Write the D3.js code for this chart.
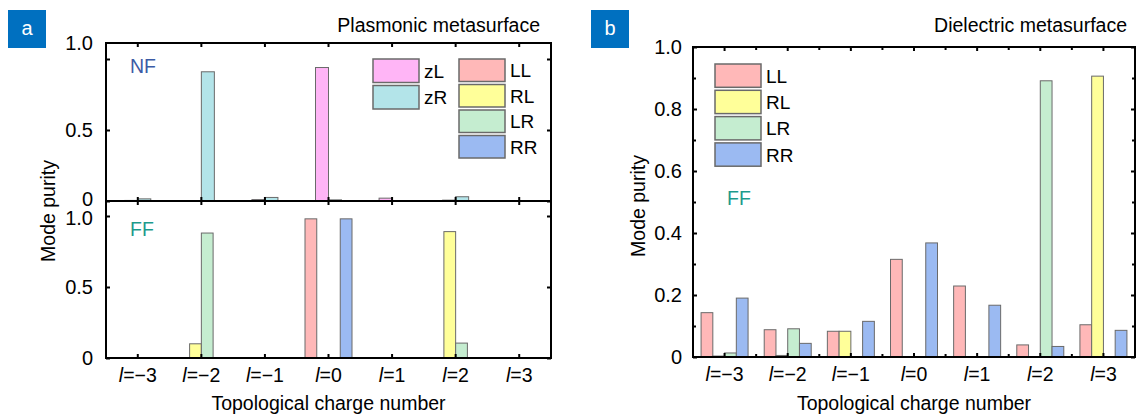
<!DOCTYPE html>
<html><head><meta charset="utf-8">
<script src="https://cdn.jsdelivr.net/npm/d3@7"></script>
<style>
body{margin:0;background:#fff;}
text{font-family:"Liberation Sans",Arial,sans-serif;}
</style></head>
<body><svg id="c" width="1136" height="417"></svg>
<script>
// ---------- data ----------
const categories = [-3, -2, -1, 0, 1, 2, 3];
const tickLabels = ["\u22123", "\u22122", "\u22121", "0", "1", "2", "3"];
const modeKeys = ["LL", "RL", "LR", "RR"];
const nfKeys = ["zL", "zR"];
// Panel a, near field (NF)
const nfZL = [0.004, 0.0, 0.01, 0.94, 0.02, 0.006, 0.0];
const nfZR = [0.015, 0.91, 0.025, 0.008, 0.0, 0.03, 0.0];
// Panel a, far field (FF)
const aLL = [0, 0, 0, 0.98, 0, 0, 0];
const aRL = [0, 0.10, 0, 0, 0, 0.89, 0];
const aLR = [0, 0.88, 0, 0, 0, 0.105, 0];
const aRR = [0, 0, 0, 0.98, 0, 0, 0];
// Panel b, far field (FF)
const bLL = [0.143, 0.088, 0.083, 0.315, 0.229, 0.039, 0.104];
const bRL = [0.003, 0.005, 0.083, 0, 0, 0, 0.906];
const bLR = [0.013, 0.091, 0, 0, 0, 0.891, 0];
const bRR = [0.19, 0.044, 0.115, 0.368, 0.167, 0.034, 0.086];
const yTicksA = [0, 0.5, 1.0];
const yTicksB = [0, 0.2, 0.4, 0.6, 0.8, 1.0];

const colors = {LL:"#FFB8B8", RL:"#FFFF99", LR:"#C5EDD0", RR:"#9BBAF2", zL:"#FFB5F6", zR:"#B3E4E9"};
const FONT = '"Liberation Sans",Arial,sans-serif';
const FS = 19.5;

const svg = d3.select("#c");

function fmtY(d){ return d === 0 ? "0" : d.toFixed(1); }

function xLabel(sel){
  sel.each(function(d){
    const t = d3.select(this);
    t.text(null);
    t.append("tspan").attr("font-style","italic").text("l");
    t.append("tspan").text("=" + tickLabels[categories.indexOf(d)]);
  });
}

function drawBars(g, x, y, keys, series, half){
  const x1 = d3.scaleBand().domain(keys).range([-half, half]);
  const rows = [];
  categories.forEach((c, i) => keys.forEach((k, j) => {
    if (series[j][i] > 0) rows.push({c, k, v: series[j][i]});
  }));
  g.selectAll(null).data(rows).join("rect")
    .attr("x", d => x(d.c) + x.bandwidth()/2 + x1(d.k))
    .attr("width", x1.bandwidth())
    .attr("y", d => y(d.v))
    .attr("height", d => y(0) - y(d.v))
    .attr("fill", d => colors[d.k])
    .attr("stroke", "#6a6a6a").attr("stroke-width", 1);
}

function frame(g, x0, x1, y0, y1){
  g.append("rect").attr("x", x0).attr("y", y0).attr("width", x1-x0).attr("height", y1-y0)
    .attr("fill","none").attr("stroke","#000").attr("stroke-width",2);
}

function legend(g, x, y, keys, step){
  keys.forEach((k, i) => {
    g.append("rect").attr("x", x).attr("y", y + i*step).attr("width", 46).attr("height", step-3)
      .attr("fill", colors[k]).attr("stroke","#6a6a6a").attr("stroke-width",1.5);
    g.append("text").attr("x", x+51).attr("y", y + i*step + (step-3)/2 + 7)
      .attr("font-size", 19).attr("fill","#000").text(k);
  });
}

function panelLabel(x, txt){
  svg.append("rect").attr("x", x).attr("y", 10).attr("width", 38).attr("height", 38).attr("fill","#0070C0");
  svg.append("text").attr("x", x+19).attr("y", 35).attr("text-anchor","middle")
    .attr("font-size", 20).attr("fill","#fff").text(txt);
}

// ---------- Panel a ----------
{
  const L = 106, R = 551, T = 43, M = 201, B = 358;
  const x = d3.scaleBand().domain(categories).range([L, R]);
  const yU = d3.scaleLinear().domain([0, 1]).range([M, 59]);
  const yD = d3.scaleLinear().domain([0, 1]).range([B, 216]);
  const g = svg.append("g");

  drawBars(g, x, yU, nfKeys, [nfZL, nfZR], 13);
  drawBars(g, x, yD, modeKeys, [aLL, aRL, aLR, aRR], 23.5);

  const ax = g.append("g").attr("font-family", FONT);
  const ayU = ax.append("g").attr("transform", `translate(${L},0)`)
    .call(d3.axisLeft(yU).tickValues(yTicksA).tickFormat(fmtY).tickSize(-4).tickSizeOuter(0).tickPadding(13));
  ayU.selectAll("text").filter(d => d === 1).attr("dy", "-0.5em");
  ayU.selectAll("text").filter(d => d === 0).attr("dy", "0.2em");
  ax.append("g").attr("transform", `translate(${R},0)`)
    .call(d3.axisRight(yU).tickValues(yTicksA).tickSize(-4).tickSizeOuter(0).tickFormat(""));
  const ayD = ax.append("g").attr("transform", `translate(${L},0)`)
    .call(d3.axisLeft(yD).tickValues(yTicksA).tickFormat(fmtY).tickSize(-4).tickSizeOuter(0).tickPadding(13));
  ayD.selectAll("text").filter(d => d === 1).attr("dy", "0.42em");
  ax.append("g").attr("transform", `translate(${R},0)`)
    .call(d3.axisRight(yD).tickValues(yTicksA).tickSize(-4).tickSizeOuter(0).tickFormat(""));
  const axB = ax.append("g").attr("transform", `translate(0,${B})`)
    .call(d3.axisBottom(x).tickSize(-4).tickSizeOuter(0).tickPadding(10));
  axB.selectAll("text").call(xLabel);
  ax.append("g").attr("transform", `translate(0,${T})`)
    .call(d3.axisTop(x).tickSize(-4).tickSizeOuter(0).tickFormat(""));
  ax.append("g").attr("transform", `translate(0,${M})`)
    .call(d3.axisTop(x).tickSize(4).tickSizeOuter(0).tickFormat(""));
  ax.append("g").attr("transform", `translate(0,${M})`)
    .call(d3.axisBottom(x).tickSize(4).tickSizeOuter(0).tickFormat(""));
  ax.selectAll(".domain").remove();
  ax.selectAll(".tick line").attr("stroke","#000").attr("stroke-width",2);
  ax.selectAll(".tick text").attr("font-size", 20).attr("fill","#000");
  axB.selectAll(".tick text").attr("font-size", FS);

  frame(g, L, R, T, M);
  frame(g, L, R, M, B);

  g.append("text").attr("x", 130).attr("y", 73).attr("font-size", FS).attr("fill","#3B5BA5").text("NF");
  g.append("text").attr("x", 130).attr("y", 236).attr("font-size", FS).attr("fill","#1E9A8C").text("FF");
  legend(g, 373, 59, nfKeys, 26.5);
  legend(g, 459, 59, modeKeys, 25.5);

  g.append("text").attr("x", 540).attr("y", 32).attr("text-anchor","end").attr("font-size", FS).text("Plasmonic metasurface");
  g.append("text").attr("transform", "translate(55,211) rotate(-90)").attr("text-anchor","middle")
    .attr("font-size", FS).text("Mode purity");
  g.append("text").attr("x", (L+R)/2).attr("y", 410).attr("text-anchor","middle").attr("font-size", FS)
    .text("Topological charge number");
  panelLabel(8, "a");
}

// ---------- Panel b ----------
{
  const L = 693, R = 1135, T = 47, B = 357;
  const x = d3.scaleBand().domain(categories).range([L, R]);
  const y = d3.scaleLinear().domain([0, 1]).range([B, T]);
  const g = svg.append("g");

  drawBars(g, x, y, modeKeys, [bLL, bRL, bLR, bRR], 23.5);

  const ax = g.append("g").attr("font-family", FONT);
  const minorY = d3.range(1, 10, 2).map(d => d / 10);
  ax.append("g").attr("transform", `translate(${L},0)`)
    .call(d3.axisLeft(y).tickValues(yTicksB).tickFormat(fmtY).tickSize(-4).tickSizeOuter(0).tickPadding(11));
  ax.append("g").attr("transform", `translate(${L},0)`)
    .call(d3.axisLeft(y).tickValues(minorY).tickFormat("").tickSize(-3).tickSizeOuter(0));
  ax.append("g").attr("transform", `translate(${R},0)`)
    .call(d3.axisRight(y).tickValues(yTicksB).tickFormat("").tickSize(-4).tickSizeOuter(0));
  ax.append("g").attr("transform", `translate(${R},0)`)
    .call(d3.axisRight(y).tickValues(minorY).tickFormat("").tickSize(-3).tickSizeOuter(0));
  const axB = ax.append("g").attr("transform", `translate(0,${B})`)
    .call(d3.axisBottom(x).tickSize(-4).tickSizeOuter(0).tickPadding(10));
  axB.selectAll("text").call(xLabel);
  ax.append("g").attr("transform", `translate(0,${T})`)
    .call(d3.axisTop(x).tickSize(-4).tickSizeOuter(0).tickFormat(""));
  const bounds = categories.slice(1);
  ax.selectAll(null).data(bounds).join("line")
    .attr("x1", d => x(d)).attr("x2", d => x(d)).attr("y1", B).attr("y2", B-3)
    .attr("stroke","#000").attr("stroke-width",2);
  ax.selectAll(null).data(bounds).join("line")
    .attr("x1", d => x(d)).attr("x2", d => x(d)).attr("y1", T).attr("y2", T+3)
    .attr("stroke","#000").attr("stroke-width",2);
  ax.selectAll(".domain").remove();
  ax.selectAll(".tick line").attr("stroke","#000").attr("stroke-width",2);
  ax.selectAll(".tick text").attr("font-size", 20).attr("fill","#000");
  axB.selectAll(".tick text").attr("font-size", FS);

  frame(g, L, R, T, B);

  g.append("text").attr("x", 727).attr("y", 205).attr("font-size", FS).attr("fill","#1E9A8C").text("FF");
  legend(g, 715, 64, modeKeys, 26.3);

  g.append("text").attr("x", 1127).attr("y", 32).attr("text-anchor","end").attr("font-size", FS).text("Dielectric metasurface");
  g.append("text").attr("transform", "translate(645,206) rotate(-90)").attr("text-anchor","middle")
    .attr("font-size", FS).text("Mode purity");
  g.append("text").attr("x", 914).attr("y", 410).attr("text-anchor","middle").attr("font-size", FS)
    .text("Topological charge number");
  panelLabel(591, "b");
}
</script></body></html>
